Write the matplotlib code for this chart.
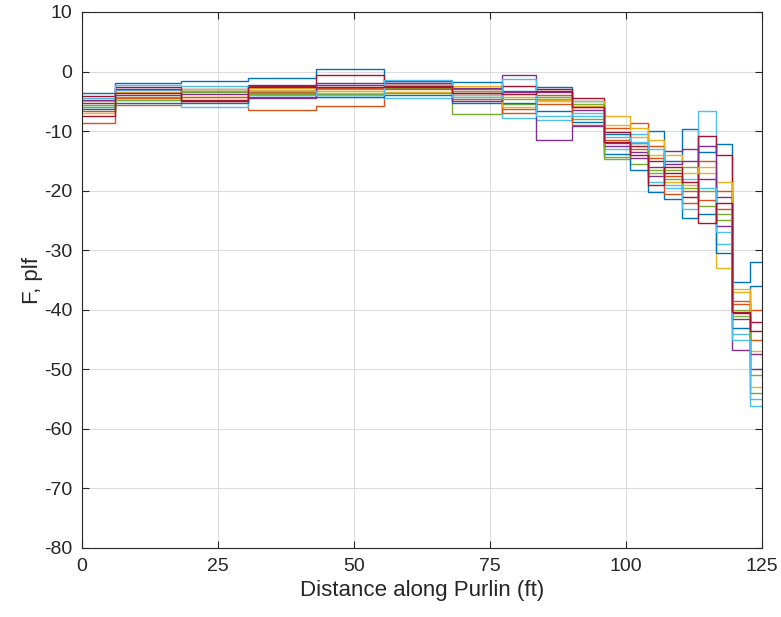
import numpy as np
import matplotlib
matplotlib.use('Agg')
import matplotlib.pyplot as plt

# purlin segment edges (ft)
edges = [0, 6, 18.25, 30.5, 43, 55.5, 68, 77.25, 83.5, 90, 96, 100.75,
         104, 107, 110.25, 113.25, 116.5, 119.5, 122.75, 125]

# line load per segment (plf), one list per case
case01 = [-3.6, -2.0, -1.6, -1.0, 0.4, -2.0, -1.7, -3.2, -2.6, -5.0, -10.5, -12.0, -10.0, -15.0, -9.6, -13.5, -12.2, -35.4, -31.9]
case02 = [-8.7, -5.6, -5.0, -6.4, -5.8, -2.2, -3.0, -6.3, -4.0, -6.0, -9.5, -8.7, -12.5, -17.5, -22.0, -15.0, -20.0, -39.0, -40.0]
case03 = [-7.0, -4.8, -4.3, -3.1, -3.6, -3.5, -2.5, -4.2, -5.0, -5.8, -7.4, -11.0, -14.0, -18.5, -19.0, -17.0, -33.0, -37.0, -47.0]
case04 = [-5.2, -3.9, -3.0, -2.2, -2.2, -1.6, -2.8, -0.6, -3.5, -6.5, -12.0, -13.5, -16.0, -13.3, -13.0, -18.0, -21.0, -46.7, -50.0]
case05 = [-5.6, -4.3, -3.5, -3.6, -3.0, -2.8, -7.1, -5.5, -4.6, -8.0, -14.7, -15.5, -17.0, -16.5, -16.0, -20.0, -25.0, -40.0, -54.0]
case06 = [-5.9, -3.1, -5.9, -3.9, -4.2, -4.5, -4.0, -7.8, -8.2, -7.5, -13.0, -10.5, -18.5, -19.5, -18.0, -6.7, -29.0, -44.0, -56.2]
case07 = [-4.1, -2.6, -4.8, -2.5, -0.6, -2.6, -3.6, -2.5, -3.0, -4.5, -10.1, -12.5, -15.0, -17.0, -21.0, -10.8, -14.0, -40.5, -42.0]
case08 = [-6.3, -5.2, -5.3, -4.2, -4.2, -3.9, -5.3, -5.3, -6.6, -8.4, -13.8, -16.6, -20.3, -21.4, -24.6, -24.0, -30.5, -43.0, -36.0]
case09 = [-6.6, -4.5, -4.2, -3.4, -2.8, -3.0, -4.6, -7.0, -5.5, -9.0, -11.5, -13.0, -14.5, -20.5, -20.0, -21.5, -23.0, -38.5, -45.0]
case10 = [-5.0, -3.4, -2.9, -2.8, -3.3, -2.2, -4.0, -6.0, -4.8, -4.9, -9.0, -9.5, -11.5, -14.0, -17.0, -16.0, -18.5, -36.5, -53.0]
case11 = [-4.8, -2.9, -3.8, -4.4, -2.0, -1.9, -5.0, -3.5, -11.5, -9.2, -12.5, -14.5, -17.5, -15.5, -15.0, -12.5, -26.0, -41.5, -47.5]
case12 = [-5.9, -4.8, -3.3, -3.8, -3.8, -3.6, -3.3, -4.6, -4.2, -5.5, -14.3, -12.0, -16.5, -18.0, -19.5, -22.5, -24.0, -41.0, -51.0]
case13 = [-4.4, -2.2, -2.5, -3.3, -3.9, -1.4, -4.3, -1.2, -7.5, -7.0, -11.0, -11.8, -13.0, -19.0, -23.0, -19.5, -27.0, -45.0, -55.0]
case14 = [-7.4, -3.6, -5.0, -2.6, -2.6, -2.4, -3.6, -3.8, -3.3, -6.0, -11.8, -14.0, -19.0, -16.0, -18.5, -25.5, -22.0, -40.3, -43.5]

cases = [case01, case02, case03, case04, case05, case06, case07,
         case08, case09, case10, case11, case12, case13, case14]

# default matlab colour order
colors = ['#0072BD', '#D95319', '#EDB120', '#7E2F8E', '#77AC30', '#4DBEEE', '#A2142F']

plt.rcParams['font.family'] = ['Liberation Sans', 'DejaVu Sans']
plt.rcParams['axes.unicode_minus'] = False

fig = plt.figure(figsize=(7.81, 6.17), dpi=100)
ax = fig.add_axes([82 / 781, 1 - 548 / 617, 680 / 781, 536 / 617])

for i, vals in enumerate(cases):
    ax.stairs(vals, edges, baseline=None, color=colors[i % 7], lw=1.0)

ax.set_xlim(0, 125)
ax.set_ylim(-80, 10)
ax.set_xticks([0, 25, 50, 75, 100, 125])
ax.set_yticks(np.arange(-80, 11, 10))
ax.grid(True, color='#dcdcdc', lw=0.8)
ax.set_axisbelow(True)

for s in ax.spines.values():
    s.set_color('#262626')
    s.set_linewidth(0.8)
ax.tick_params(direction='in', top=True, right=True, length=5, width=0.8,
               colors='#262626', labelsize=14, pad=7)
ax.set_xlabel('Distance along Purlin (ft)', fontsize=16, color='#262626', labelpad=4)
ax.set_ylabel('F, plf', fontsize=16, color='#262626', labelpad=1)

fig.savefig('out.png', dpi=100, facecolor='white')
